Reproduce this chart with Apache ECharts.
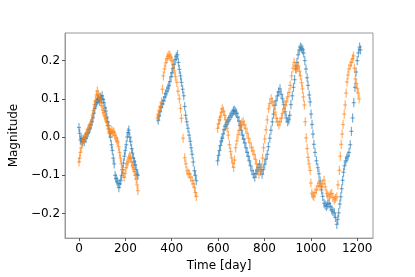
<!DOCTYPE html>
<html>
<head>
<meta charset="utf-8">
<script src="https://cdn.jsdelivr.net/npm/echarts@6/dist/echarts.min.js"></script>
<style>
  html, body { margin: 0; padding: 0; background: #fff; }
  #chart { width: 415px; height: 277px; }
</style>
</head>
<body>
<div id="chart"></div>
<script>
// light curve observations: [day, magnitude]
const blueObs = [
  [0,0.025],[3,0.01],[6,-0.008],[10,-0.004],[14,-0.012],[18,-0.006],[23,-0.012],[27,0.0],[31,-0.004],[36,0.008],
  [40,0.012],[44,0.02],[48,0.024],[52,0.032],[56,0.04],[60,0.05],[64,0.062],[68,0.075],[72,0.085],[76,0.09],
  [80,0.098],[84,0.1],[88,0.094],[92,0.104],[96,0.1],[100,0.108],[104,0.098],[108,0.09],[112,0.076],[116,0.068],
  [120,0.052],[124,0.04],[128,0.03],[132,0.01],[136,0.0],[140,-0.02],[144,-0.035],[148,-0.055],[152,-0.07],[156,-0.1],
  [160,-0.108],[164,-0.115],[168,-0.12],[172,-0.132],[176,-0.122],[180,-0.114],[184,-0.1],[188,-0.085],[192,-0.068],[196,-0.05],
  [200,-0.035],[204,-0.02],[208,0.0],[212,0.012],[215,0.018],[219,0.0],[223,-0.012],[227,-0.03],[231,-0.042],[235,-0.055],
  [239,-0.065],[243,-0.072],[247,-0.085],[251,-0.097],[254,-0.1],
  [342,0.044],[346,0.055],[350,0.066],[355,0.078],[360,0.087],[365,0.095],[370,0.105],[374,0.113],[379,0.12],[384,0.128],
  [388,0.134],[392,0.145],[397,0.158],[401,0.168],[405,0.18],[410,0.19],[415,0.203],[420,0.21],[425,0.215],[429,0.195],
  [433,0.177],[438,0.16],[442,0.143],[447,0.125],[452,0.108],[456,0.08],[460,0.057],[465,0.04],[470,0.023],[475,0.005],
  [480,-0.011],[484,-0.028],[488,-0.045],[493,-0.065],[498,-0.088],[502,-0.1],[506,-0.114],
  [598,-0.062],[602,-0.048],[606,-0.035],[610,-0.022],[614,-0.01],[618,-0.003],[622,0.008],[626,0.02],[631,0.028],[636,0.033],
  [641,0.04],[646,0.045],[651,0.052],[656,0.057],[661,0.062],[666,0.068],[670,0.07],[675,0.066],[680,0.062],[685,0.052],
  [690,0.042],[695,0.03],[700,0.018],[705,0.005],[710,-0.005],[715,-0.015],[720,-0.028],[725,-0.04],[730,-0.05],[735,-0.062],
  [740,-0.075],[746,-0.088],[752,-0.097],[758,-0.105],[763,-0.095],[768,-0.088],[773,-0.08],[779,-0.071],[784,-0.085],[790,-0.097],
  [795,-0.085],[801,-0.071],[806,-0.058],[812,-0.045],[817,-0.025],[823,-0.003],[828,0.018],[834,0.04],[839,0.06],[845,0.083],
  [850,0.095],[856,0.108],[861,0.118],[867,0.126],[872,0.112],[878,0.1],[883,0.085],[889,0.066],[894,0.05],[900,0.04],
  [905,0.045],[909,0.057],[914,0.085],[920,0.108],[925,0.13],[930,0.15],[935,0.178],[940,0.195],[945,0.215],[950,0.228],
  [955,0.235],[960,0.232],[965,0.228],[969,0.22],[974,0.2],[979,0.178],[984,0.155],[988,0.135],[993,0.11],[997,0.092],
  [1001,0.06],[1005,0.033],[1009,0.008],[1013,-0.019],[1018,-0.04],[1024,-0.062],[1030,-0.08],[1035,-0.096],[1040,-0.115],[1046,-0.138],
  [1051,-0.155],[1057,-0.173],[1062,-0.178],[1068,-0.181],[1073,-0.176],[1079,-0.173],[1084,-0.182],[1090,-0.19],[1095,-0.194],[1101,-0.198],
  [1106,-0.21],[1112,-0.228],[1116,-0.215],[1120,-0.198],[1125,-0.175],[1129,-0.156],[1133,-0.135],[1137,-0.113],[1141,-0.092],[1145,-0.075],
  [1150,-0.062],[1155,-0.055],[1160,-0.05],[1165,-0.04],[1170,-0.02],[1175,0.015],[1180,0.05],[1185,0.09],[1190,0.13],[1195,0.17],
  [1200,0.2],[1205,0.22],[1210,0.235],[1214,0.228]
];

const orangeObs = [
  [0,-0.065],[3,-0.055],[6,-0.04],[10,-0.028],[14,-0.015],[18,-0.01],[23,-0.003],[27,0.0],[31,0.008],[35,0.012],
  [39,0.02],[43,0.025],[47,0.03],[51,0.034],[55,0.045],[59,0.058],[63,0.07],[67,0.085],[71,0.095],[75,0.11],
  [79,0.12],[83,0.112],[87,0.105],[91,0.1],[95,0.09],[99,0.082],[103,0.07],[107,0.064],[111,0.055],[115,0.048],
  [119,0.04],[123,0.03],[127,0.022],[131,0.015],[135,0.012],[139,0.018],[143,0.01],[147,0.015],[151,0.012],[155,0.005],
  [159,-0.002],[163,-0.008],[167,-0.012],[171,-0.025],[175,-0.04],[179,-0.055],[183,-0.07],[187,-0.085],[191,-0.095],[195,-0.105],
  [199,-0.095],[203,-0.08],[207,-0.07],[211,-0.065],[215,-0.055],[219,-0.05],[223,-0.055],[227,-0.065],[231,-0.075],[235,-0.08],
  [239,-0.09],[243,-0.1],[247,-0.11],[251,-0.125],[254,-0.14],
  [338,0.05],[342,0.058],[346,0.07],[351,0.08],[356,0.092],[360,0.125],[364,0.16],[369,0.178],[374,0.194],[379,0.205],
  [383,0.21],[388,0.215],[392,0.212],[397,0.207],[401,0.2],[406,0.188],[411,0.173],[416,0.158],[422,0.143],[427,0.12],
  [433,0.1],[438,0.075],[442,0.049],[449,-0.003],[456,-0.054],[461,-0.07],[466,-0.088],[471,-0.095],[477,-0.097],[482,-0.105],
  [488,-0.114],[493,-0.122],[498,-0.131],[502,-0.145],[506,-0.155],
  [598,0.023],[602,0.035],[606,0.045],[610,0.052],[614,0.065],[618,0.074],[623,0.068],[628,0.057],[633,0.045],[639,0.023],
  [644,0.005],[649,-0.02],[654,-0.038],[658,-0.054],[663,-0.068],[667,-0.079],[671,-0.06],[676,-0.028],[681,-0.01],[686,0.006],
  [691,0.018],[697,0.032],[702,0.036],[708,0.04],[713,0.032],[719,0.023],[725,0.01],[731,-0.003],[737,-0.015],[744,-0.028],
  [750,-0.036],[755,-0.045],[761,-0.058],[766,-0.071],[771,-0.085],[776,-0.097],[782,-0.09],[788,-0.079],[792,-0.055],[796,-0.028],
  [801,-0.005],[807,0.019],[812,0.045],[818,0.074],[823,0.088],[829,0.1],[834,0.092],[840,0.083],[845,0.065],[851,0.049],
  [856,0.04],[862,0.032],[867,0.04],[873,0.049],[878,0.062],[884,0.074],[890,0.084],[895,0.092],[900,0.105],[906,0.117],
  [911,0.135],[917,0.16],[923,0.18],[928,0.195],[933,0.185],[937,0.178],[942,0.182],[947,0.186],[951,0.172],[955,0.16],
  [960,0.142],[964,0.126],[968,0.105],[972,0.084],[976,0.04],[980,-0.002],[984,-0.03],[988,-0.053],[992,-0.07],[997,-0.087],
  [1000,-0.12],[1004,-0.147],[1009,-0.152],[1013,-0.156],[1018,-0.145],[1024,-0.138],[1030,-0.128],[1035,-0.121],[1040,-0.127],[1046,-0.13],
  [1051,-0.122],[1057,-0.113],[1062,-0.13],[1068,-0.147],[1073,-0.152],[1079,-0.156],[1084,-0.15],[1090,-0.147],[1095,-0.158],[1101,-0.164],
  [1106,-0.16],[1112,-0.156],[1117,-0.125],[1123,-0.087],[1127,-0.05],[1131,-0.019],[1135,0.008],[1139,0.033],[1144,0.06],[1148,0.084],
  [1152,0.115],[1156,0.144],[1160,0.162],[1164,0.178],[1170,0.188],[1175,0.195],[1180,0.205],[1184,0.212],[1188,0.18],[1192,0.152],
  [1196,0.14],[1200,0.127],[1204,0.115],[1208,0.1]
];

const magErr = 0.012;
const xTicks = [0, 200, 400, 600, 800, 1000, 1200];
const yTicks = [-0.2, -0.1, 0.0, 0.1, 0.2];

const chart = echarts.init(document.getElementById('chart'));

// vertical error bar + small horizontal tick, like matplotlib errorbar with '+'
function errorBar(color) {
  return function (params, api) {
    const x = api.value(0), y = api.value(1), e = api.value(2);
    const top = api.coord([x, y + e]);
    const bot = api.coord([x, y - e]);
    const mid = api.coord([x, y]);
    const style = { stroke: color, lineWidth: 1.2, opacity: 0.6 };
    return {
      type: 'group',
      children: [
        { type: 'line', shape: { x1: top[0], y1: top[1], x2: bot[0], y2: bot[1] }, style: style },
        { type: 'line', shape: { x1: mid[0] - 2, y1: mid[1], x2: mid[0] + 2, y2: mid[1] }, style: style }
      ]
    };
  };
}

const font = 'DejaVu Sans';
const axisColor = '#999';
const fmtY = v => (v < 0 ? '\u2212' : '') + Math.abs(v).toFixed(1);
const fmtX = v => String(v);

chart.setOption({
  animation: false,
  grid: { left: 52, right: 42, top: 33, bottom: 35, show: true, borderColor: axisColor, borderWidth: 1 },
  xAxis: {
    type: 'value', min: -60, max: 1268,
    name: 'Time [day]', nameLocation: 'middle', nameGap: 17,
    nameTextStyle: { fontFamily: font, fontSize: 12, color: '#000' },
    splitLine: { show: false },
    axisLine: { show: true, onZero: false, lineStyle: { color: axisColor } },
    axisTick: { show: true, length: 3, lineStyle: { color: '#555' }, customValues: xTicks },
    axisLabel: { fontFamily: font, fontSize: 12, color: '#000', margin: 5, customValues: xTicks, formatter: fmtX }
  },
  yAxis: {
    type: 'value', min: -0.264, max: 0.272,
    name: 'Magnitude', nameLocation: 'middle', nameGap: 34, nameRotate: 90,
    nameTextStyle: { fontFamily: font, fontSize: 12, color: '#000' },
    splitLine: { show: false },
    axisLine: { show: true, onZero: false, lineStyle: { color: axisColor } },
    axisTick: { show: true, length: 3, lineStyle: { color: '#555' }, customValues: yTicks },
    axisLabel: { fontFamily: font, fontSize: 12, color: '#000', margin: 5, customValues: yTicks, formatter: fmtY }
  },
  series: [
    {
      type: 'custom', name: 'blue', clip: true,
      renderItem: errorBar('#1f77b4'),
      data: blueObs.map(d => [d[0], d[1], magErr])
    },
    {
      type: 'custom', name: 'orange', clip: true,
      renderItem: errorBar('#ff7f0e'),
      data: orangeObs.map(d => [d[0], d[1], magErr])
    }
  ]
});
</script>
</body>
</html>
